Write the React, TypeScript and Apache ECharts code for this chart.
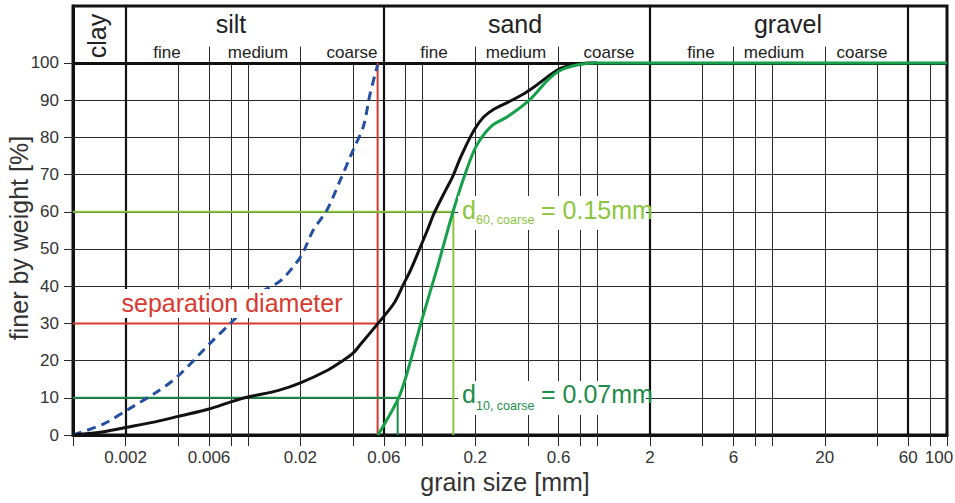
import React, { useEffect, useRef } from 'react';
import * as echarts from 'echarts';

const FONT = "'Liberation Sans', Arial, Helvetica, sans-serif";
const lg = (v: number) => Math.log10(v);

// axis extents (mm / %)
const X_MIN_MM = 0.001;
const X_MAX_MM = 100;
const Y_TOP = 115.3; // header band above 100 %

const yTickValues = [0, 10, 20, 30, 40, 50, 60, 70, 80, 90, 100];
const thinGridPct = [10, 20, 30, 40, 50, 60, 70, 80, 90];
const xTickMm = [0.001, 0.002, 0.004, 0.006, 0.008, 0.01, 0.02, 0.04, 0.06, 0.08, 0.1, 0.2, 0.4, 0.6, 0.8, 1, 2, 4, 6, 8, 10, 20, 40, 60, 80, 100];
const xLabelMm = [0.002, 0.006, 0.02, 0.06, 0.2, 0.6, 2, 6, 20, 60, 100];
const xLabelText = ['0.002', '0.006', '0.02', '0.06', '0.2', '0.6', '2', '6', '20', '60', '100'];
const thinGridMm = [0.004, 0.006, 0.008, 0.01, 0.02, 0.04, 0.08, 0.1, 0.2, 0.4, 0.6, 0.8, 1, 4, 6, 8, 10, 20, 40, 80];
const classBoundaryMm = [0.002, 0.06, 2, 60];
const subclassBoundaryMm = [0.006, 0.02, 0.2, 0.6, 6, 20];

// grading curves
const blackMm = [0.001, 0.0015, 0.002, 0.003, 0.004, 0.006, 0.008, 0.01, 0.015, 0.02, 0.0286, 0.034, 0.04, 0.0442, 0.0556, 0.0686, 0.0783, 0.0855, 0.0955, 0.1066, 0.1164, 0.1358, 0.1484, 0.1656, 0.1889, 0.2064, 0.225, 0.257, 0.307, 0.382, 0.436, 0.52, 0.62, 0.739, 0.88, 1];
const blackPct = [0, 0.9, 2, 3.6, 5, 7, 8.9, 10.2, 12, 14, 17.4, 19.6, 22, 24.4, 30, 35.4, 40.8, 44.4, 49.7, 55.1, 59.6, 65.9, 69.4, 74.8, 80.4, 83.4, 85.6, 87.6, 89.4, 91.8, 93.6, 96.3, 98.6, 99.5, 100, 100];

const greenMm = [0.0556, 0.0728, 0.0819, 0.0977, 0.1217, 0.1484, 0.173, 0.202, 0.246, 0.307, 0.408, 0.52, 0.62, 0.773, 0.962, 100];
const greenPct = [0, 9.9, 17, 30, 45.2, 59.6, 69.4, 77.5, 82.9, 85.6, 90, 95.4, 98.1, 99.5, 100, 100];

const blueMm = [0.001, 0.0015, 0.00204, 0.003, 0.00394, 0.0061, 0.0083, 0.0118, 0.0154, 0.02, 0.0237, 0.0284, 0.0338, 0.04, 0.0459, 0.0497, 0.0539, 0.0553];
const bluePct = [0, 3, 6.7, 11.5, 15.6, 24.7, 30.9, 38.2, 41.5, 47.8, 55.1, 60.5, 68.5, 76.5, 83, 91, 97.6, 99.5];

// characteristic diameters
const separationMm = 0.0553;
const separationPct = 30;
const d60Mm = 0.15;
const d60Pct = 60;
const d10Mm = 0.072;
const d10Pct = 10;

const THIN = { color: '#2a2a2a', width: 1, type: 'solid' as const };
const THICK = { color: '#111', width: 2.2, type: 'solid' as const };
const HEAVY = { color: '#111', width: 3, type: 'solid' as const };

const vLine = (mm: number, y0: number, y1: number, style: any) => [
  { coord: [lg(mm), y0], lineStyle: style },
  { coord: [lg(mm), y1] },
];
const hLine = (pct: number, style: any) => [
  { coord: [lg(X_MIN_MM), pct], lineStyle: style },
  { coord: [lg(X_MAX_MM), pct] },
];

const gridLines = [
  ...thinGridPct.map((p) => hLine(p, THIN)),
  ...thinGridMm.map((m) => vLine(m, 0, 100, THIN)),
  ...subclassBoundaryMm.map((m) => vLine(m, 100, 104.4, THIN)),
  hLine(100, HEAVY),
  ...classBoundaryMm.map((m) => vLine(m, 0, Y_TOP, THICK)),
];

const toXY = (mm: number[], pct: number[]) => mm.map((m, i) => [lg(m), pct[i]]);

const txt = (text: string, x: number, y: number, size: number, fill: string, extra: any = {}) => ({
  type: 'text',
  x,
  y,
  z: 20,
  silent: true,
  ...extra,
  style: {
    text,
    fill,
    fontSize: size,
    fontFamily: FONT,
    align: extra.align || 'center',
    verticalAlign: 'middle',
  },
});
const whiteRect = (x: number, y: number, w: number, h: number) => ({
  type: 'rect',
  z: 15,
  silent: true,
  shape: { x, y, width: w, height: h },
  style: { fill: '#fff' },
});

const RED = '#d83a31';
const LIGHT_GREEN = '#8cc63e';
const DARK_GREEN = '#1e8c4b';
const CURVE_GREEN = '#16a04a';
const BLUE = '#24509f';
const TITLE = '#222';

const option: any = {
  animation: false,
  backgroundColor: '#fff',
  grid: {
    left: 73,
    right: 8,
    top: 6,
    bottom: 68,
    outerBoundsMode: 'none',
    containLabel: false,
    show: true,
    borderColor: '#111',
    borderWidth: 3,
    backgroundColor: 'transparent',
  },
  xAxis: {
    type: 'value',
    min: lg(X_MIN_MM),
    max: lg(X_MAX_MM),
    axisLine: { show: true, onZero: false, lineStyle: { color: '#111', width: 3 } },
    axisTick: {
      show: true,
      length: 11,
      customValues: xTickMm.map(lg),
      lineStyle: { color: '#2a2a2a', width: 1 },
    },
    axisLabel: {
      customValues: xLabelMm.map(lg),
      margin: 14,
      fontSize: 17,
      fontFamily: FONT,
      color: '#333',
      formatter: (v: number) => {
        const i = xLabelMm.findIndex((m) => Math.abs(lg(m) - v) < 1e-6);
        if (i < 0) return '';
        return i === xLabelMm.length - 1 ? `{last|${xLabelText[i]}}` : xLabelText[i];
      },
      rich: {
        last: { fontSize: 17, fontFamily: FONT, color: '#333', padding: [0, 16, 0, 0] },
      },
    },
    splitLine: { show: false },
  },
  yAxis: {
    type: 'value',
    min: 0,
    max: Y_TOP,
    axisLine: { show: true, onZero: false, lineStyle: { color: '#111', width: 3 } },
    axisTick: {
      show: true,
      length: 9,
      customValues: yTickValues,
      lineStyle: { color: '#2a2a2a', width: 1 },
    },
    axisLabel: {
      customValues: yTickValues,
      margin: 14,
      fontSize: 17,
      fontFamily: FONT,
      color: '#333',
    },
    splitLine: { show: false },
  },
  series: [
    {
      type: 'line',
      name: 'grid',
      z: 1,
      silent: true,
      data: [[lg(X_MIN_MM), 0]],
      symbol: 'none',
      lineStyle: { opacity: 0 },
      markLine: {
        z: 1,
        silent: true,
        animation: false,
        symbol: ['none', 'none'],
        label: { show: false },
        emphasis: { disabled: true },
        lineStyle: THIN,
        data: gridLines,
      },
    },
    {
      type: 'line',
      name: 'separation',
      z: 3,
      data: [[lg(X_MIN_MM), separationPct], [lg(separationMm), separationPct], [lg(separationMm), 0], [lg(separationMm), 100]],
      symbol: 'none',
      lineStyle: { color: RED, width: 2 },
    },
    {
      type: 'line',
      name: 'd60',
      z: 3,
      data: [[lg(X_MIN_MM), d60Pct], [lg(d60Mm), d60Pct], [lg(d60Mm), 0]],
      symbol: 'none',
      lineStyle: { color: LIGHT_GREEN, width: 2 },
    },
    {
      type: 'line',
      name: 'd10',
      z: 3,
      data: [[lg(X_MIN_MM), d10Pct], [lg(d10Mm), d10Pct], [lg(d10Mm), 0]],
      symbol: 'none',
      lineStyle: { color: DARK_GREEN, width: 2 },
    },
    {
      type: 'line',
      name: 'fine fraction',
      z: 4,
      data: toXY(blueMm, bluePct),
      symbol: 'none',
      smooth: 0.3,
      lineStyle: { color: BLUE, width: 3, type: [9, 6] },
    },
    {
      type: 'line',
      name: 'total',
      z: 4,
      data: toXY(blackMm, blackPct),
      symbol: 'none',
      smooth: 0.3,
      lineStyle: { color: '#111', width: 3 },
    },
    {
      type: 'line',
      name: 'coarse fraction',
      z: 5,
      data: toXY(greenMm, greenPct),
      symbol: 'none',
      smooth: 0.3,
      lineStyle: { color: CURVE_GREEN, width: 3 },
    },
  ],
  graphic: [
    // axis names
    txt('finer by weight [%]', 19, 238, 25, '#333', { rotation: Math.PI / 2 }),
    txt('grain size [mm]', 505, 482, 25, '#333'),
    // header
    txt('clay', 97, 36, 25, TITLE, { rotation: Math.PI / 2 }),
    txt('silt', 231, 24, 25, TITLE),
    txt('sand', 515, 24, 25, TITLE),
    txt('gravel', 788, 24, 25, TITLE),
    txt('fine', 167, 52, 17, TITLE),
    txt('medium', 258, 52, 17, TITLE),
    txt('coarse', 352, 52, 17, TITLE),
    txt('fine', 434, 52, 17, TITLE),
    txt('medium', 516, 52, 17, TITLE),
    txt('coarse', 609, 52, 17, TITLE),
    txt('fine', 701, 52, 17, TITLE),
    txt('medium', 774, 52, 17, TITLE),
    txt('coarse', 862, 52, 17, TITLE),
    // separation diameter
    whiteRect(119, 289, 229, 29),
    txt('separation diameter', 232, 303, 25, RED),
    // d60
    whiteRect(458, 196, 188, 34),
    txt('d', 462, 209.5, 25, LIGHT_GREEN, { align: 'left' }),
    txt('60, coarse', 476, 220, 12.5, LIGHT_GREEN, { align: 'left' }),
    txt('= 0.15mm', 541, 209.5, 25, LIGHT_GREEN, { align: 'left' }),
    // d10
    whiteRect(458, 381, 188, 34),
    txt('d', 462, 394, 25, DARK_GREEN, { align: 'left' }),
    txt('10, coarse', 476, 405.5, 12.5, DARK_GREEN, { align: 'left' }),
    txt('= 0.07mm', 541, 394, 25, DARK_GREEN, { align: 'left' }),
  ],
};

export default function App() {
  const ref = useRef<HTMLDivElement>(null);
  useEffect(() => {
    const chart = echarts.init(ref.current!, null, { renderer: 'svg', width: 955, height: 503 });
    chart.setOption(option);
    return () => chart.dispose();
  }, []);
  return (
    <div
      ref={ref}
      style={{ position: 'absolute', left: 0, top: 0, width: 955, height: 503, background: '#fff' }}
    />
  );
}
